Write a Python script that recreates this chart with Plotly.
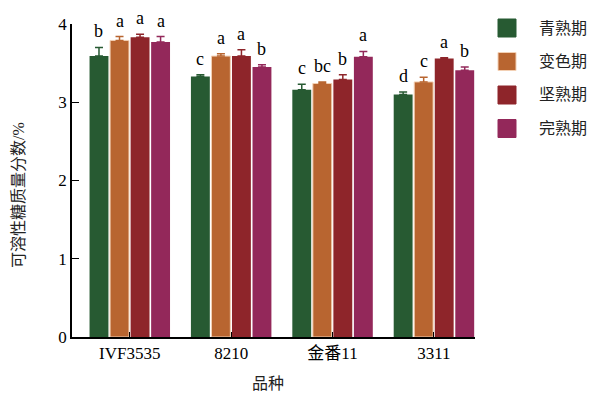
import plotly.graph_objects as go

# Soluble sugar content by cultivar and ripening stage
cultivars = ["IVF3535", "8210", "金番11", "3311"]
stages = ["青熟期", "变色期", "坚熟期", "完熟期"]
colors = ["#275A32", "#B86530", "#8E252A", "#93285A"]

green_vals = [3.59, 3.33, 3.16, 3.10]
green_err = [0.11, 0.02, 0.07, 0.03]
green_sig = ["b", "c", "c", "d"]

breaker_vals = [3.79, 3.59, 3.24, 3.26]
breaker_err = [0.05, 0.03, 0.02, 0.06]
breaker_sig = ["a", "a", "bc", "c"]

firm_vals = [3.83, 3.59, 3.29, 3.56]
firm_err = [0.04, 0.08, 0.06, 0.01]
firm_sig = ["a", "a", "b", "a"]

full_vals = [3.77, 3.45, 3.58, 3.41]
full_err = [0.07, 0.03, 0.07, 0.04]
full_sig = ["a", "b", "a", "b"]

y_ticks = [0, 1, 2, 3, 4]

series = [
    (green_vals, green_err, green_sig),
    (breaker_vals, breaker_err, breaker_sig),
    (firm_vals, firm_err, firm_sig),
    (full_vals, full_err, full_sig),
]

FONT = "Liberation Serif, Noto Sans CJK SC"
ML, MR, MT, MB = 72, 123, 24, 57
W, H = 598, 394
PW, PH = W - ML - MR, H - MT - MB
BARGAP = 0.19
X_RANGE = [-0.57, 3.405]

fig = go.Figure()
xs = list(range(len(cultivars)))
for i, (vals, err, sig) in enumerate(series):
    line = dict(color="#F3D0B4", width=1) if i == 1 else dict(width=0)
    fig.add_trace(go.Bar(
        x=xs, y=vals, name=stages[i],
        marker=dict(color=colors[i], line=line),
        error_y=dict(type="data", array=err, arrayminus=[0] * len(err),
                     symmetric=False, color=colors[i], thickness=1.5, width=4),
        showlegend=False,
    ))

# significance letters above each error bar
slot = (1 - BARGAP) / len(series)
for i, (vals, err, sig) in enumerate(series):
    for j, (v, e, s) in enumerate(zip(vals, err, sig)):
        fig.add_annotation(
            x=j + (i - 1.5) * slot, y=v + e, text=s, showarrow=False,
            xref="x", yref="y", yanchor="bottom", yshift=4,
            font=dict(family=FONT, size=18, color="black"),
        )

# legend: swatches and labels on the right
def px_x(p):
    return (p - ML) / PW

def px_y(p):
    return (H - MB - p) / PH

for i, name in enumerate(stages):
    top = 19 + i * 33.5
    fig.add_shape(type="rect", xref="paper", yref="paper",
                  x0=px_x(498), x1=px_x(516), y0=px_y(top + 18), y1=px_y(top),
                  fillcolor=colors[i],
                  line=dict(color="#F3D0B4" if i == 1 else colors[i], width=1))
    fig.add_annotation(x=px_x(537), y=px_y(top + 9), xref="paper", yref="paper",
                       text=name, showarrow=False, xanchor="left", yanchor="middle",
                       font=dict(family=FONT, size=16, color="#222"))

fig.add_annotation(x=px_x(18), y=px_y(195), xref="paper", yref="paper",
                   text="可溶性糖质量分数/%", textangle=-90, showarrow=False,
                   xanchor="center", yanchor="middle",
                   font=dict(family=FONT, size=16, color="#222"))
fig.add_annotation(x=px_x(268), y=px_y(383), xref="paper", yref="paper",
                   text="品种", showarrow=False,
                   xanchor="center", yanchor="middle",
                   font=dict(family=FONT, size=16, color="#222"))

fig.update_layout(
    width=W, height=H, margin=dict(l=ML, r=MR, t=MT, b=MB),
    paper_bgcolor="white", plot_bgcolor="white",
    barmode="group", bargap=BARGAP, bargroupgap=0.08,
    font=dict(family=FONT, size=17, color="black"),
)
fig.update_xaxes(
    range=X_RANGE, tickvals=xs, ticktext=cultivars,
    showline=True, linecolor="black", linewidth=1.5,
    ticks="inside", ticklen=5, tickcolor="black", showgrid=False, zeroline=False,
    tickfont=dict(family=FONT, size=17, color="black"),
)
fig.update_yaxes(
    range=[0, 4], tickvals=y_ticks,
    showline=True, linecolor="black", linewidth=1.5,
    ticks="inside", ticklen=7, tickcolor="black", showgrid=False, zeroline=False,
    tickfont=dict(family=FONT, size=17, color="black"),
)

fig.write_html("out.html")
